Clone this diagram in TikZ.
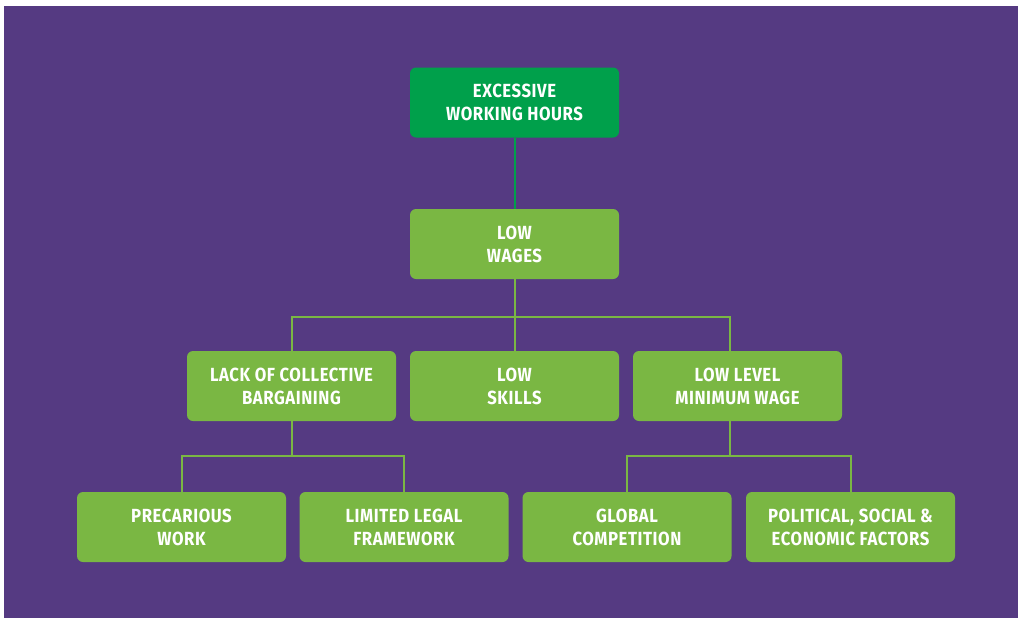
\documentclass[tikz,border=0pt]{standalone}
\usepackage{fontspec}
\setmainfont{Fira Sans}[UprightFont=* Bold, FakeStretch=0.88, LetterSpace=3]
\definecolor{bgpurple}{RGB}{85,58,130}
\definecolor{darkgreen}{RGB}{0,160,75}
\definecolor{lightgreen}{RGB}{122,183,67}
\tikzset{
  box/.style={fill=lightgreen, rounded corners=6pt, minimum width=209pt, minimum height=70pt,
    inner sep=0pt, align=center, text=white, font=\fontsize{19}{23}\selectfont},
  topbox/.style={box, fill=darkgreen},
  link/.style={draw=lightgreen, line width=2pt},
  toplink/.style={draw=darkgreen, line width=2pt}
}
\begin{document}
\begin{tikzpicture}[x=1pt,y=-1pt]
\useasboundingbox (0,0) rectangle (1020,621);
\fill[bgpurple] (4,6) rectangle (1018,618);
% nodes
\node[topbox] (ewh) at (514.5,102.5) {EXCESSIVE\\WORKING HOURS};
\node[box] (lw) at (514.5,244) {LOW\\WAGES};
\node[box] (lcb) at (291.5,386) {LACK OF COLLECTIVE\\BARGAINING};
\node[box] (ls) at (514.5,386) {LOW\\SKILLS};
\node[box] (llmw) at (737.5,386) {LOW LEVEL\\MINIMUM WAGE};
\node[box] (pw) at (181.5,527) {PRECARIOUS\\WORK};
\node[box] (llf) at (404,527) {LIMITED LEGAL\\FRAMEWORK};
\node[box] (gc) at (627,527) {GLOBAL\\COMPETITION};
\node[box] (pse) at (850.5,527) {POLITICAL, SOCIAL \&\\ECONOMIC FACTORS};
% connectors
\coordinate (j1) at (514.5,317);
\coordinate (j2) at (291.5,456);
\coordinate (j3) at (730,456);
\draw[toplink] (ewh.south) -- (lw.north);
\draw[link] (lw.south) -- (ls.north);
\draw[link] (lcb.north) -- (lcb.north |- j1) -- (730,317) -- (730,351);
\draw[link] (lcb.south) -- (j2);
\draw[link] (pw.north) -- (pw.north |- j2) -- (llf.north |- j2) -- (llf.north);
\draw[link] (730,421) -- (j3);
\draw[link] (gc.north) -- (gc.north |- j3) -- (pse.north |- j3) -- (pse.north);
\end{tikzpicture}
\end{document}
